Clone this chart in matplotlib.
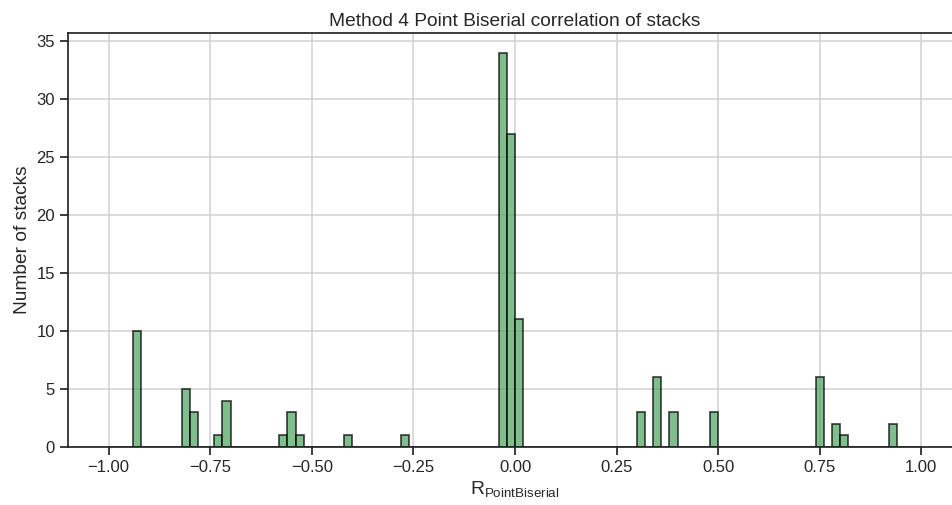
import matplotlib
matplotlib.use("Agg")
import matplotlib.pyplot as plt
import seaborn as sns
import numpy as np

# histogram bins: left edge of each non-empty bin (width 0.02) and its count
bin_left = [-0.94, -0.82, -0.80, -0.74, -0.72, -0.58, -0.56, -0.54, -0.42, -0.28,
            -0.04, -0.02, 0.00, 0.30, 0.34, 0.38, 0.48, 0.74, 0.78, 0.80, 0.92]
counts = [10, 5, 3, 1, 4, 1, 3, 1, 1, 1,
          34, 27, 11, 3, 6, 3, 3, 6, 2, 1, 2]

bin_width = 0.02
edges = np.linspace(-1.0, 1.0, 101)
centers = np.array(bin_left) + bin_width / 2

sns.set_style("ticks")
sns.set_style({"axes.grid": True, "grid.color": ".82"})
plt.rcParams['font.family'] = ['Liberation Sans', 'DejaVu Sans']

fig = plt.figure(figsize=(9.52, 5.05), dpi=100)
ax = fig.add_axes([68 / 952, 58 / 505, 894 / 952, 414 / 505])

ax.hist(centers, bins=edges, weights=counts, color="#55A868", alpha=0.75,
        edgecolor="black", linewidth=1.2)

ax.set_xticks([-1.0, -0.75, -0.5, -0.25, 0.0, 0.25, 0.5, 0.75, 1.0])
ax.tick_params(labelsize=12, length=6, width=1.25)
ax.grid(linewidth=1.1)
for s in ax.spines.values():
    s.set_linewidth(1.25)
    s.set_color(".15")
ax.set_title("Method 4 Point Biserial correlation of stacks", fontsize=13.8, pad=5)
ax.set_xlabel(r"R$_{\mathregular{PointBiserial}}$", fontsize=13.8, labelpad=3)
ax.set_ylabel("Number of stacks", fontsize=13.8)

fig.savefig("out.png", dpi=100)
